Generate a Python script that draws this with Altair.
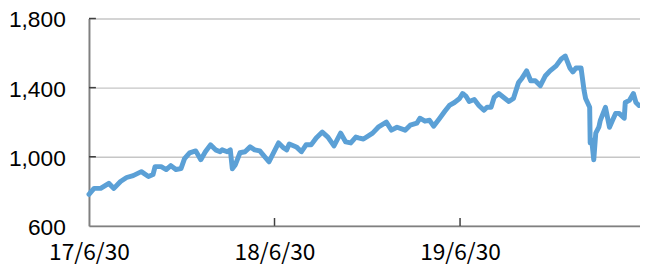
import altair as alt
import pandas as pd

dates = [
    "2017-06-30", "2017-07-10", "2017-07-23", "2017-08-08", "2017-08-18", "2017-08-31",
    "2017-09-12", "2017-09-25", "2017-10-11", "2017-10-25", "2017-11-03", "2017-11-07",
    "2017-11-19", "2017-11-29", "2017-12-08", "2017-12-18", "2017-12-28", "2018-01-04",
    "2018-01-14", "2018-01-26", "2018-02-05", "2018-02-14", "2018-02-24", "2018-03-06",
    "2018-03-15", "2018-03-19", "2018-03-29", "2018-04-04", "2018-04-08", "2018-04-14",
    "2018-04-23", "2018-05-03", "2018-05-13", "2018-05-22", "2018-06-01", "2018-06-19",
    "2018-06-28", "2018-07-08", "2018-07-18", "2018-07-24", "2018-07-29", "2018-08-12",
    "2018-08-22", "2018-08-31", "2018-09-10", "2018-09-20", "2018-10-02", "2018-10-13",
    "2018-10-25", "2018-11-07", "2018-11-17", "2018-11-27", "2018-12-07", "2018-12-12",
    "2018-12-22", "2019-01-09", "2019-01-20", "2019-02-05", "2019-02-15", "2019-02-26",
    "2019-03-14", "2019-03-24", "2019-04-06", "2019-04-12", "2019-04-22", "2019-05-01",
    "2019-05-09", "2019-05-21", "2019-05-31", "2019-06-09", "2019-06-19", "2019-06-29",
    "2019-07-05", "2019-07-12", "2019-07-18", "2019-07-28", "2019-08-06", "2019-08-16",
    "2019-08-22", "2019-08-30", "2019-09-05", "2019-09-14", "2019-09-24", "2019-10-04",
    "2019-10-13", "2019-10-23", "2019-10-29", "2019-11-08", "2019-11-16", "2019-11-25",
    "2019-12-05", "2019-12-15", "2019-12-24", "2020-01-05", "2020-01-15", "2020-01-23",
    "2020-02-01", "2020-02-07", "2020-02-13", "2020-02-23", "2020-02-29", "2020-03-03",
    "2020-03-11", "2020-03-12", "2020-03-15", "2020-03-19", "2020-03-23", "2020-03-29",
    "2020-04-01", "2020-04-11", "2020-04-19", "2020-04-25", "2020-05-01", "2020-05-08",
    "2020-05-18", "2020-05-20", "2020-05-28", "2020-06-05", "2020-06-10", "2020-06-16",
]
values = [
    783, 817, 817, 846, 817, 857,
    880, 891, 914, 886, 897, 943,
    943, 926, 949, 926, 931, 989,
    1023, 1034, 983, 1029, 1069, 1040,
    1029, 1040, 1029, 1040, 931, 954,
    1023, 1029, 1057, 1040, 1034, 971,
    1023, 1080, 1051, 1040, 1074, 1057,
    1029, 1069, 1069, 1109, 1143, 1114,
    1063, 1137, 1086, 1080, 1114, 1109,
    1103, 1137, 1171, 1200, 1154, 1171,
    1154, 1183, 1194, 1223, 1206, 1211,
    1177, 1223, 1263, 1297, 1314, 1337,
    1366, 1349, 1320, 1331, 1297, 1269,
    1286, 1286, 1343, 1366, 1343, 1320,
    1337, 1429, 1451, 1497, 1440, 1440,
    1411, 1469, 1497, 1526, 1566, 1583,
    1514, 1491, 1514, 1514, 1383, 1337,
    1286, 1080, 1097, 983, 1137, 1171,
    1211, 1286, 1171, 1211, 1251, 1251,
    1223, 1314, 1326, 1366, 1314, 1297,
]

x_tick_dates = ["2017-06-30", "2018-06-30", "2019-06-30"]
y_tick_values = [600, 1000, 1400, 1800]
x_domain = ["2017-06-30", "2020-06-18"]

df = pd.DataFrame({"date": dates, "value": values})
xt = pd.DataFrame({"date": x_tick_dates[1:]})
yt = pd.DataFrame({"value": y_tick_values[1:]})

x_scale = alt.Scale(type="utc", domain=x_domain)
y_scale = alt.Scale(domain=[600, 1800], nice=False, zero=False)

line = alt.Chart(df).mark_line(
    color="#5BA0D6", strokeWidth=5, strokeCap="round", strokeJoin="round"
).encode(
    x=alt.X("date:T", scale=x_scale, title=None,
            axis=alt.Axis(values=[alt.DateTime(year=2017, month=6, date=30, utc=True),
                                  alt.DateTime(year=2018, month=6, date=30, utc=True),
                                  alt.DateTime(year=2019, month=6, date=30, utc=True)],
                          labelExpr="utcFormat(datum.value, '%y/%-m/%d')",
                          grid=False, tickSize=0, labelPadding=16,
                          labelFont="Noto Sans CJK JP", labelFontSize=23,
                          labelColor="#000000", domainColor="#808080", domainWidth=2,
                          labelFlush=False)),
    y=alt.Y("value:Q", scale=y_scale, title=None,
            axis=alt.Axis(values=y_tick_values, format=",d", grid=True,
                          gridColor="#c6c6c6", gridWidth=1.5, tickSize=0,
                          labelPadding=24, labelFont="Liberation Sans",
                          labelFontSize=23, labelColor="#000000", labelOffset=1.5,
                          domainColor="#808080", domainWidth=2)),
)

yticks = alt.Chart(yt).mark_rule(color="#404040", strokeWidth=1.5).encode(
    y=alt.Y("value:Q", scale=y_scale),
    x=alt.value(0), x2=alt.value(7),
)

xticks = alt.Chart(xt).mark_rule(color="#404040", strokeWidth=1.5).encode(
    x=alt.X("date:T", scale=x_scale),
    y=alt.value(210), y2=alt.value(202),
)

chart = alt.layer(line, yticks, xticks).properties(
    width=558, height=210,
    autosize=alt.AutoSizeParams(type="none"),
    padding={"left": 82, "top": 9, "right": 0, "bottom": 41},
).configure_view(strokeWidth=0)

chart.save("out.html", embed_options={"renderer": "svg", "actions": False})
